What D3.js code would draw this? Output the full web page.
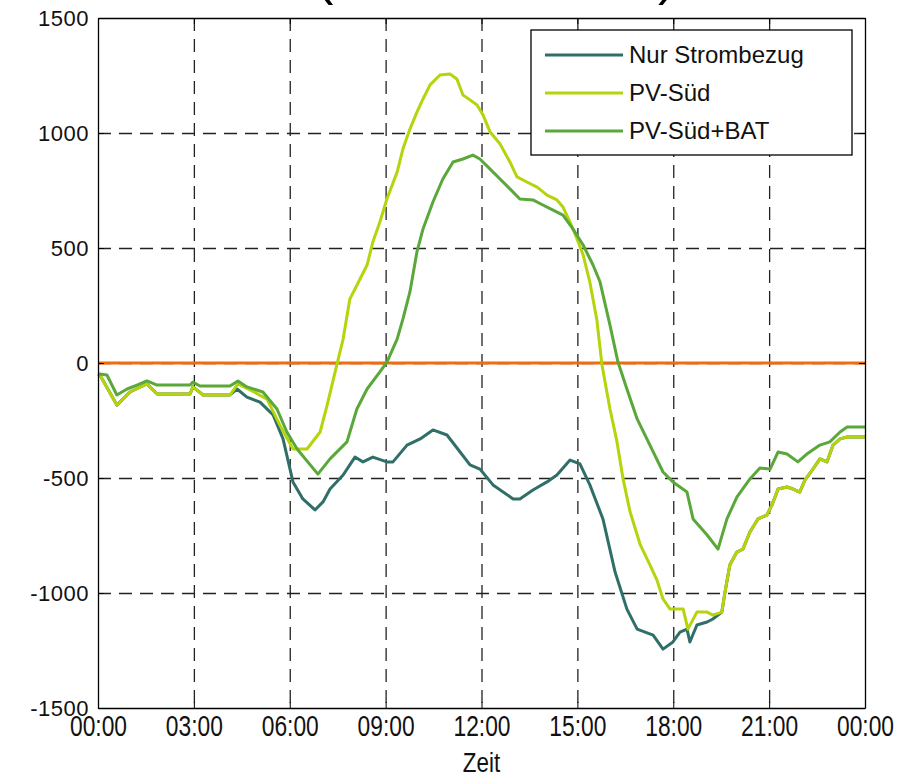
<!DOCTYPE html>
<html>
<head>
<meta charset="utf-8">
<script src="https://d3js.org/d3.v7.min.js"></script>
<style>
  body { margin: 0; background: #fff; }
  .grid line { stroke: #222; stroke-width: 1.3; stroke-dasharray: 13 8; }
  .grid path { display: none; }
  .axis path, .axis line { stroke: #000; }
  .ylab text { font-family: "Liberation Sans", Arial, sans-serif; font-size: 22px; fill: #111; letter-spacing: 0.5px; }
  .xlab text { font-family: "Liberation Sans", Arial, sans-serif; font-size: 30px; fill: #111; }
</style>
</head>
<body>
<div id="chart"></div>
<script>
// hours (0..24) and power values
var hours = [0, 3, 6, 9, 12, 15, 18, 21, 24];
var tickLabels = ["00:00","03:00","06:00","09:00","12:00","15:00","18:00","21:00","00:00"];
var yTicks = [-1500, -1000, -500, 0, 500, 1000, 1500];
var seriesNames = ["Nur Strombezug", "PV-Süd", "PV-Süd+BAT"];
var seriesColors = ["#2f6f68", "#b7d30c", "#5aa83a"];

var pvT = [0,0.06,0.59,1.0,1.53,1.85,2.88,2.97,3.29,4.13,4.38,4.76,5.29,5.69,6.10,6.54,6.95,7.17,7.48,7.67,7.88,8.20,8.42,8.60,8.82,9.04,9.36,9.54,9.76,9.98,10.17,10.39,10.70,11.01,11.23,11.42,11.64,11.86,12.05,12.27,12.58,12.89,13.11,13.42,13.74,14.05,14.36,14.55,14.77,14.99,15.18,15.39,15.61,15.77,16.02,16.24,16.43,16.65,16.97,17.27,17.49,17.68,17.90,18.31,18.46,18.74,19.06,19.24,19.52,19.62,19.77,19.99,20.18,20.40,20.65,20.93,21.09,21.28,21.56,21.75,21.96,22.12,22.37,22.59,22.81,23.00,23.22,23.44,24];
var pvV = [-48,-52,-183,-126,-91,-135,-135,-104,-139,-139,-91,-117,-157,-270,-374,-374,-300,-183,-4,104,278,365,426,526,613,713,830,930,1017,1091,1148,1209,1252,1257,1235,1165,1144,1122,1078,1004,952,874,809,787,765,730,709,678,613,539,470,352,187,-9,-200,-343,-504,-648,-791,-878,-944,-1026,-1070,-1070,-1157,-1083,-1083,-1096,-1083,-996,-878,-822,-809,-735,-678,-661,-617,-548,-539,-548,-561,-509,-461,-417,-430,-357,-330,-322,-322];

var batT = [0,0.06,0.28,0.59,0.91,1.22,1.53,1.85,2.88,2.97,3.19,4.13,4.38,4.66,5.16,5.60,5.91,6.23,6.88,7.26,7.79,8.10,8.42,8.82,9.04,9.36,9.54,9.76,9.98,10.17,10.48,10.79,11.11,11.42,11.73,11.95,12.27,12.58,12.89,13.20,13.61,13.92,14.24,14.55,14.86,15.18,15.49,15.71,16.02,16.27,16.55,16.87,17.27,17.68,17.99,18.43,18.62,19.06,19.40,19.68,19.99,20.40,20.71,21.03,21.28,21.56,21.90,22.18,22.59,22.90,23.22,23.44,24];
var batV = [-48,-48,-52,-139,-113,-96,-78,-96,-96,-83,-100,-100,-78,-104,-126,-200,-300,-374,-483,-417,-343,-200,-113,-39,4,104,191,309,483,583,700,800,874,887,904,887,843,800,757,713,709,687,665,643,583,513,426,352,165,4,-113,-243,-357,-474,-517,-561,-678,-748,-809,-678,-583,-504,-457,-461,-387,-396,-430,-396,-357,-343,-300,-278,-278];

var nurT = [0,0.06,0.59,1.0,1.53,1.85,2.88,2.97,3.29,4.13,4.35,4.66,5.07,5.48,5.79,6.10,6.41,6.79,7.04,7.26,7.67,8.04,8.29,8.60,9.04,9.23,9.67,10.08,10.48,10.92,11.33,11.64,11.95,12.36,12.99,13.20,13.61,14.05,14.36,14.77,15.08,15.39,15.80,16.18,16.55,16.87,17.37,17.68,17.99,18.21,18.43,18.52,18.74,19.06,19.24,19.52,19.62,19.77,19.99,20.18,20.40,20.65,20.93,21.09,21.28,21.56,21.75,21.96,22.12,22.37,22.59,22.81,23.00,23.22,23.44,24];
var nurV = [-48,-52,-183,-126,-91,-135,-135,-104,-139,-139,-113,-148,-170,-226,-330,-517,-591,-639,-604,-548,-487,-409,-430,-409,-430,-430,-357,-330,-291,-313,-387,-443,-461,-530,-591,-591,-552,-517,-487,-422,-439,-530,-678,-909,-1070,-1157,-1183,-1244,-1213,-1170,-1157,-1213,-1139,-1126,-1113,-1083,-996,-878,-822,-809,-735,-678,-661,-617,-548,-539,-548,-561,-509,-461,-417,-430,-357,-330,-322,-322];

var margin = {top: 18, right: 48, bottom: 72, left: 98},
    width = 913 - margin.left - margin.right,
    height = 780 - margin.top - margin.bottom;

var svgRoot = d3.select("#chart").append("svg")
    .attr("width", 913)
    .attr("height", 780);

// title is cut off at the top, only the bottom of the brackets shows
svgRoot.append("text").attr("x", 316).attr("y", -6)
    .style("font-family", "Liberation Sans, Arial").style("font-size", "52px").text("(");
svgRoot.append("text").attr("x", 658).attr("y", -6)
    .style("font-family", "Liberation Sans, Arial").style("font-size", "52px").text(")");

var svg = svgRoot.append("g")
    .attr("transform", "translate(" + margin.left + "," + margin.top + ")");

var x = d3.scaleLinear().domain([0, 24]).range([0, width]);
var y = d3.scaleLinear().domain([-1500, 1500]).range([height, 0]);

// gridlines
svg.append("g").attr("class", "grid")
    .call(d3.axisBottom(x).tickValues(hours.slice(1, -1)).tickSize(height).tickFormat(""));
svg.append("g").attr("class", "grid")
    .call(d3.axisLeft(y).tickValues(yTicks.slice(1, -1)).tickSize(-width).tickFormat(""));

// zero line
svg.append("line")
    .attr("x1", x(0)).attr("x2", x(24))
    .attr("y1", y(0)).attr("y2", y(0))
    .attr("stroke", "#f26c0c").attr("stroke-width", 3);

// series
var series = [
  {t: nurT, v: nurV},
  {t: pvT, v: pvV},
  {t: batT, v: batV}
];
var line = d3.line()
    .x(function(d) { return x(d[0]); })
    .y(function(d) { return y(d[1]); });

series.forEach(function(s, i) {
  var pts = s.t.map(function(t, j) { return [t, s.v[j]]; });
  svg.append("path")
    .datum(pts)
    .attr("d", line)
    .attr("fill", "none")
    .attr("stroke", seriesColors[i])
    .attr("stroke-width", 3)
    .attr("stroke-linejoin", "round");
});

// axes (box with inward ticks)
var xAx = svg.append("g").attr("class", "axis xlab")
    .attr("transform", "translate(0," + height + ")")
    .call(d3.axisBottom(x).tickValues(hours).tickSizeInner(-6).tickSizeOuter(0).tickPadding(6)
          .tickFormat(function(d, i) { return tickLabels[i]; }));
xAx.selectAll("text").attr("transform", "scale(0.76,1)").attr("dy", "0.72em");

svg.append("g").attr("class", "axis")
    .call(d3.axisTop(x).tickValues(hours).tickSizeInner(-6).tickSizeOuter(0).tickFormat(""));

svg.append("g").attr("class", "axis ylab")
    .call(d3.axisLeft(y).tickValues(yTicks).tickSizeInner(-6).tickSizeOuter(0).tickPadding(9)
          .tickFormat(function(d) { return String(d); }));

svg.append("g").attr("class", "axis")
    .attr("transform", "translate(" + width + ",0)")
    .call(d3.axisRight(y).tickValues(yTicks).tickSizeInner(-6).tickSizeOuter(0).tickFormat(""));

svg.selectAll(".axis path").attr("stroke-width", 1.3);

// x axis label
svg.append("text")
    .attr("transform", "translate(" + (width / 2) + "," + (height + 64) + ") scale(0.8,1)")
    .style("text-anchor", "middle")
    .style("font-family", "Liberation Sans, Arial")
    .style("font-size", "28px")
    .style("fill", "#111")
    .text("Zeit");

// legend
var lg = svg.append("g").attr("transform", "translate(" + (531 - margin.left) + "," + (30 - margin.top) + ")");
lg.append("rect").attr("width", 321).attr("height", 125)
    .attr("fill", "#fff").attr("stroke", "#000").attr("stroke-width", 1.3);
seriesNames.forEach(function(n, i) {
  var yy = 25 + i * 38;
  lg.append("line").attr("x1", 14).attr("x2", 92).attr("y1", yy).attr("y2", yy)
    .attr("stroke", seriesColors[i]).attr("stroke-width", 3);
  lg.append("text").attr("x", 98).attr("y", yy + 8)
    .style("font-family", "Liberation Sans, Arial").style("font-size", "24px").style("fill", "#111")
    .text(n);
});
</script>
</body>
</html>
